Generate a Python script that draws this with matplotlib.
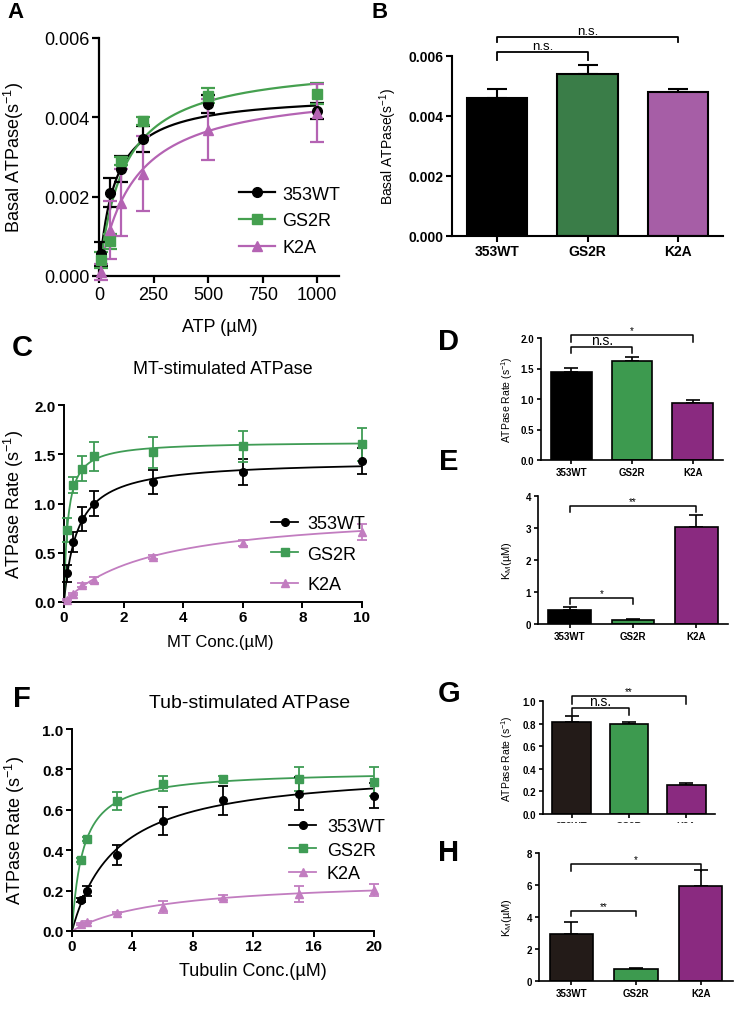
import numpy as np
import matplotlib.pyplot as plt
from matplotlib.lines import Line2D
from matplotlib.patches import Rectangle
from matplotlib.ticker import FormatStrFormatter

plt.rcParams['font.family'] = ['Liberation Sans', 'DejaVu Sans']
plt.rcParams['mathtext.fontset'] = 'custom'
plt.rcParams['mathtext.rm'] = 'Liberation Sans'
plt.rcParams['mathtext.it'] = 'Liberation Sans:italic'
plt.rcParams['mathtext.bf'] = 'Liberation Sans:bold'

W, H = 739, 1020
groups = ['353WT', 'GS2R', 'K2A']

# A: basal ATPase vs ATP
atp = [10, 50, 100, 200, 500, 1000]
basal_wt = [0.00055, 0.0021, 0.0027, 0.00345, 0.00433, 0.00415]
basal_wt_err = [0.0003, 0.00036, 0.00033, 0.00033, 0.00023, 0.0002]
basal_gs = [0.0004, 0.00087, 0.0029, 0.0039, 0.00455, 0.0046]
basal_gs_err = [0.0002, 0.0002, 0.0001, 0.0001, 0.0002, 0.00027]
basal_k2a = [0.0001, 0.00115, 0.00185, 0.00258, 0.00369, 0.00411]
basal_k2a_err = [0.0002, 0.00073, 0.00085, 0.00095, 0.00076, 0.00074]
basal_km = [70, 113, 157]

# B: basal Vmax
basal_vmax = [0.0046, 0.0054, 0.0048]
basal_vmax_err = [0.0003, 0.0003, 0.00011]

# C: MT-stimulated
mt = [0.1, 0.3, 0.6, 1, 3, 6, 10]
mt_wt = [0.29, 0.61, 0.84, 1.00, 1.22, 1.32, 1.43]
mt_wt_err = [0.085, 0.1, 0.12, 0.13, 0.12, 0.135, 0.135]
mt_gs = [0.73, 1.19, 1.355, 1.48, 1.52, 1.58, 1.60]
mt_gs_err = [0.12, 0.08, 0.13, 0.145, 0.16, 0.16, 0.165]
mt_k2a = [0.025, 0.08, 0.17, 0.22, 0.46, 0.6, 0.71]
mt_k2a_err = [0.01, 0.01, 0.02, 0.03, 0.02, 0.03, 0.08]

# D, E: MT fit parameters
mt_vmax = [1.44, 1.63, 0.94]
mt_vmax_err = [0.07, 0.06, 0.04]
mt_km = [0.45, 0.13, 3.03]
mt_km_err = [0.07, 0.04, 0.37]

# F: tubulin-stimulated
tub = [0.6, 1, 3, 6, 10, 15, 20]
tub_wt = [0.152, 0.197, 0.377, 0.545, 0.648, 0.68, 0.67]
tub_wt_err = [0.01, 0.025, 0.05, 0.068, 0.072, 0.083, 0.062]
tub_gs = [0.35, 0.455, 0.645, 0.73, 0.752, 0.752, 0.74]
tub_gs_err = [0.01, 0.01, 0.045, 0.037, 0.015, 0.06, 0.07]
tub_k2a = [0.036, 0.046, 0.088, 0.12, 0.165, 0.185, 0.203]
tub_k2a_err = [0.005, 0.005, 0.005, 0.03, 0.012, 0.04, 0.03]

# G, H: tubulin fit parameters
tub_vmax = [0.81, 0.795, 0.26]
tub_vmax_err = [0.06, 0.015, 0.015]
tub_km = [2.95, 0.73, 5.93]
tub_km_err = [0.75, 0.07, 1.0]

fig = plt.figure(figsize=(W / 100, H / 100), dpi=100)


def add_ax(l, t, r, b):
    return fig.add_axes([l / W, 1 - b / H, (r - l) / W, (b - t) / H])


def style(ax, lw, tl, ts, bold):
    for s in ['top', 'right']:
        ax.spines[s].set_visible(False)
    for s in ['left', 'bottom']:
        ax.spines[s].set_linewidth(lw)
    ax.tick_params(direction='out', length=tl, width=lw, labelsize=ts, pad=2)
    if bold:
        for lab in ax.get_xticklabels() + ax.get_yticklabels():
            lab.set_fontweight('bold')


def ylab(ax, text, px, size, l, r):
    ax.set_ylabel(text, fontsize=size, va='center')
    ax.yaxis.set_label_coords((px - l) / (r - l), 0.5)


def letter(px, py, s, size):
    fig.text(px / W, 1 - py / H, s, ha='center', va='center', fontsize=size, weight='bold')


def kinetics(ax, x, ys, errs, vmax, km, colors, ms, cap, lw):
    xs = np.linspace(0, max(x), 400)
    markers = ['o', 's', '^']
    handles = []
    for y, e, v, k, c, m, name in zip(ys, errs, vmax, km, colors, markers, groups):
        ax.plot(xs, v * xs / (k + xs), color=c, lw=lw, zorder=2)
        ax.errorbar(x, y, yerr=e, fmt=m, color=c, ms=ms, capsize=cap,
                    elinewidth=lw, capthick=lw, clip_on=False, zorder=3)
        handles.append(Line2D([], [], color=c, marker=m, ms=ms, lw=lw, label=name))
    return handles


def bars(ax, vals, errs, colors, lw, cap):
    x = np.arange(3)
    ax.errorbar(x, vals, yerr=[np.zeros(3), errs], fmt='none', ecolor='black',
                capsize=cap, elinewidth=lw, capthick=lw, zorder=1)
    ax.bar(x, vals, width=0.67, color=colors, edgecolor='black', linewidth=lw, zorder=2)
    ax.set_xlim(-0.5, 2.5)
    ax.set_xticks(x)
    ax.set_xticklabels(groups)


def bracket(ax, x1, x2, y, y0, text, size, lw):
    ax.plot([x1, x1, x2, x2], [y0, y, y, y0], color='black', lw=lw, clip_on=False)
    ax.text((x1 + x2) / 2, y, text, ha='center', va='bottom', fontsize=size, clip_on=False)


line_cols = ['#000000', '#3f9c55', '#c27dc0']
line_cols_a = ['#000000', '#45a04f', '#b463b3']

# ---- A ----
axA = add_ax(99, 39, 339, 277)
hA = kinetics(axA, atp, [basal_wt, basal_gs, basal_k2a],
              [basal_wt_err, basal_gs_err, basal_k2a_err],
              basal_vmax, basal_km, line_cols_a, 7, 5, 1.6)
axA.set_xlim(0, 1100)
axA.set_ylim(0, 0.006)
axA.set_xticks([0, 250, 500, 750, 1000])
axA.set_yticks([0, 0.002, 0.004, 0.006])
axA.yaxis.set_major_formatter(FormatStrFormatter('%.3f'))
style(axA, 1.6, 5, 13, False)
ylab(axA, r'Basal ATPase(s$^{-1}$)', 14, 13, 99, 339)
fig.text(220 / W, 1 - 328 / H, 'ATP (µM)', ha='center', va='center', fontsize=13)
axA.legend(handles=hA, loc='center left', bbox_to_anchor=(230 / W, 1 - 222 / H),
           bbox_transform=fig.transFigure, frameon=False, fontsize=13,
           handlelength=2.0, handletextpad=0.4, labelspacing=0.55, borderpad=0)
letter(15, 12, 'A', 16)

# ---- B ----
axB = add_ax(452, 57, 723, 237)
bars(axB, basal_vmax, basal_vmax_err, ['#000000', '#3a7d48', '#a65ea6'], 1.5, 7)
axB.set_ylim(0, 0.006)
axB.set_yticks([0, 0.002, 0.004, 0.006])
axB.yaxis.set_major_formatter(FormatStrFormatter('%.3f'))
style(axB, 1.5, 4, 10, True)
ylab(axB, r'Basal ATPase(s$^{-1}$)', 388, 10, 452, 723)
bracket(axB, 0, 1, 0.00612, 0.00588, 'n.s.', 9.5, 1.3)
bracket(axB, 0, 2, 0.00662, 0.00646, 'n.s.', 9.5, 1.3)
letter(380, 12, 'B', 16)

# ---- C ----
axC = add_ax(64, 406, 362, 603)
hC = kinetics(axC, mt, [mt_wt, mt_gs, mt_k2a], [mt_wt_err, mt_gs_err, mt_k2a_err],
              mt_vmax, mt_km, line_cols, 5.5, 3.5, 1.3)
axC.set_xlim(0, 10)
axC.set_ylim(0, 2.0)
axC.set_xticks([0, 2, 4, 6, 8, 10])
axC.set_yticks([0, 0.5, 1.0, 1.5, 2.0])
axC.yaxis.set_major_formatter(FormatStrFormatter('%.1f'))
style(axC, 1.4, 4, 11, True)
ylab(axC, r'ATPase Rate (s$^{-1}$)', 14, 13, 64, 362)
fig.text(223 / W, 1 - 370 / H, 'MT-stimulated ATPase', ha='center', va='center', fontsize=13)
fig.text(220 / W, 1 - 643 / H, 'MT Conc.(µM)', ha='center', va='center', fontsize=12)
axC.legend(handles=hC, loc='center left', bbox_to_anchor=(262 / W, 1 - 555 / H),
           bbox_transform=fig.transFigure, frameon=False, fontsize=13,
           handlelength=1.5, handletextpad=0.5, labelspacing=0.75, borderpad=0)
letter(22, 348, 'C', 21)

# ---- D ----
axD = add_ax(541, 339, 723, 461)
bars(axD, mt_vmax, mt_vmax_err, ['#000000', '#3d9a4f', '#8a2a80'], 1.2, 5)
axD.set_ylim(0, 2.0)
axD.set_yticks([0, 0.5, 1.0, 1.5, 2.0])
axD.yaxis.set_major_formatter(FormatStrFormatter('%.1f'))
style(axD, 1.2, 3, 7, True)
ylab(axD, r'ATPase Rate (s$^{-1}$)', 507, 7.5, 541, 723)
bracket(axD, 0, 1, 1.86, 1.75, 'n.s.', 10, 1.1)
bracket(axD, 0, 2, 2.05, 1.93, '*', 7, 1.1)
letter(449, 342, 'D', 21)

# ---- E ----
axE = add_ax(538, 497, 728, 625)
bars(axE, mt_km, mt_km_err, ['#000000', '#3d9a4f', '#8a2a80'], 1.2, 5)
axE.set_ylim(0, 4)
axE.set_yticks([0, 1, 2, 3, 4])
style(axE, 1.2, 3, 7, True)
ylab(axE, r'K$_\mathrm{M}$(µM)', 507, 8, 538, 728)
bracket(axE, 0, 2, 3.69, 3.5, '**', 7, 1.1)
bracket(axE, 0, 1, 0.81, 0.62, '*', 7, 1.1)
letter(449, 462, 'E', 21)

# ---- F ----
axF = add_ax(72, 730, 374, 932)
hF = kinetics(axF, tub, [tub_wt, tub_gs, tub_k2a], [tub_wt_err, tub_gs_err, tub_k2a_err],
              tub_vmax, tub_km, line_cols, 5.5, 3.5, 1.3)
axF.set_xlim(0, 20)
axF.set_ylim(0, 1.0)
axF.set_xticks([0, 4, 8, 12, 16, 20])
axF.set_yticks([0, 0.2, 0.4, 0.6, 0.8, 1.0])
axF.yaxis.set_major_formatter(FormatStrFormatter('%.1f'))
style(axF, 1.4, 4, 11, True)
ylab(axF, r'ATPase Rate (s$^{-1}$)', 15, 13, 72, 374)
fig.text(250 / W, 1 - 703 / H, 'Tub-stimulated ATPase', ha='center', va='center', fontsize=14)
fig.text(253 / W, 1 - 972 / H, 'Tubulin Conc.(µM)', ha='center', va='center', fontsize=13)
axF.legend(handles=hF, loc='center left', bbox_to_anchor=(280 / W, 1 - 851 / H),
           bbox_transform=fig.transFigure, frameon=False, fontsize=13,
           handlelength=1.5, handletextpad=0.6, labelspacing=0.35, borderpad=0)
letter(22, 699, 'F', 21)

# ---- G ----
axG = add_ax(543, 702, 715, 815)
bars(axG, tub_vmax, tub_vmax_err, ['#231b18', '#3d9a4f', '#8a2a80'], 1.2, 5)
axG.set_ylim(0, 1.0)
axG.set_yticks([0, 0.2, 0.4, 0.6, 0.8, 1.0])
axG.yaxis.set_major_formatter(FormatStrFormatter('%.1f'))
style(axG, 1.2, 3, 7, True)
ylab(axG, r'ATPase Rate (s$^{-1}$)', 507, 7.5, 543, 715)
bracket(axG, 0, 1, 0.94, 0.88, 'n.s.', 10, 1.1)
bracket(axG, 0, 2, 1.04, 0.97, '**', 7, 1.1)
letter(449, 694, 'G', 21)
# tick labels of G are cut off in the original figure
fig.patches.append(Rectangle((540 / W, 1 - 845 / H), 190 / W, 21 / H,
                             transform=fig.transFigure, color='white', zorder=10))

# ---- H ----
axH = add_ax(539, 854, 733, 982)
bars(axH, tub_km, tub_km_err, ['#231b18', '#3d9a4f', '#8a2a80'], 1.2, 5)
axH.set_ylim(0, 8)
axH.set_yticks([0, 2, 4, 6, 8])
style(axH, 1.2, 3, 7, True)
ylab(axH, r'K$_\mathrm{M}$(µM)', 507, 8, 539, 733)
bracket(axH, 0, 2, 7.3, 6.87, '*', 7, 1.1)
bracket(axH, 0, 1, 4.4, 4.06, '**', 7, 1.1)
letter(449, 853, 'H', 21)

fig.savefig('out.png', dpi=100)
